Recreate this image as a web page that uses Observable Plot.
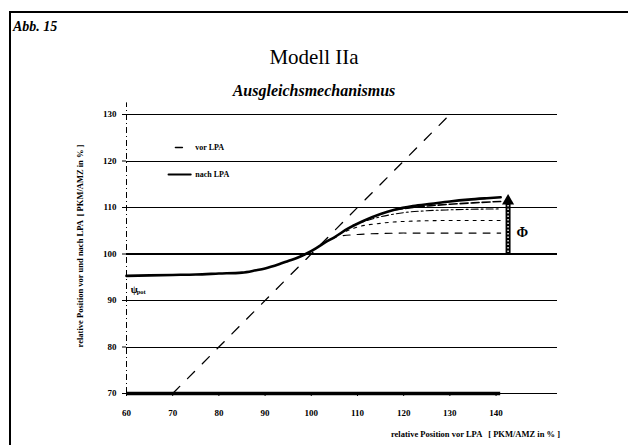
<!DOCTYPE html>
<html><head><meta charset="utf-8">
<script src="https://cdn.jsdelivr.net/npm/d3@7"></script>
<script src="https://cdn.jsdelivr.net/npm/@observablehq/plot@0.6"></script>
<style>body{margin:0;background:#fff}</style>
</head><body><div id="chart"></div>
<script>
const xTicks = [60,70,80,90,100,110,120,130,140];
const yTicks = [70,80,90,100,110,120,130];
const gridY = [80,90,110,120,130];
const nachX = [60,65,70,75,80,85,88,90,93,95,97,99,101,103,105,108,111,115,118,122,126,130,134,138,141];
const nachY = [95.3,95.4,95.5,95.6,95.8,96.0,96.5,96.9,97.8,98.5,99.2,100.1,101.2,102.5,103.6,105.5,107.0,108.6,109.5,110.3,110.8,111.3,111.7,112.0,112.2];
const vor1X = [104,106,110,115,120,130,141];
const vor1Y = [103.1,103.8,104.2,104.4,104.5,104.5,104.5];
const vor2X = [106,110,115,120,130,141];
const vor2Y = [104.2,105.8,106.6,107.0,107.2,107.2];
const vor3X = [109,115,120,125,130,141];
const vor3Y = [106.2,108.0,108.9,109.3,109.5,109.7];
const vor4X = [118,122,126,130,135,141];
const vor4Y = [109.5,110.0,110.4,110.7,111.0,111.3];
const diagX = [70,130];
const phiX = 142.6, phiFrom = 100, phiTo = 111.2, phiTip = 112.4;
const legendLabels = ["vor LPA","nach LPA"];

const tbl = (xs, ys) => xs.map((x,i)=>({x, y: ys[i]}));
const nach = tbl(nachX, nachY);
const vor1 = tbl(vor1X, vor1Y), vor2 = tbl(vor2X, vor2Y), vor3 = tbl(vor3X, vor3Y), vor4 = tbl(vor4X, vor4Y);
const diag = diagX.map(v => ({x:v, y:v}));

const serif = "'Liberation Serif','DejaVu Serif',serif";

const plot = Plot.plot({
  width: 628, height: 445,
  marginLeft: 126, marginRight: 71, marginTop: 114, marginBottom: 52,
  x: {domain: [60, 153.3]},
  y: {domain: [70, 130]},
  style: {fontFamily: serif, fontSize: "10px", fontWeight: "bold", color: "#000", background: "#fff", overflow: "visible"},
  marks: [
    Plot.ruleY(gridY, {stroke: "#000", strokeWidth: 1, shapeRendering: "crispEdges"}),
    Plot.ruleY([100], {stroke: "#000", strokeWidth: 2, shapeRendering: "crispEdges"}),
    Plot.ruleY([70], {stroke: "#000", strokeWidth: 1, shapeRendering: "crispEdges"}),
    Plot.ruleY([70], {x1: 60, x2: 141, stroke: "#000", strokeWidth: 3.5}),
    Plot.ruleX([60], {y1: 70, y2: 132.5, stroke: "#000", strokeWidth: 1, strokeDasharray: "6,3,1,3"}),
    Plot.line(diag, {x: "x", y: "y", stroke: "#000", strokeWidth: 1.3, strokeDasharray: "10,11"}),
    Plot.line(vor1, {x: "x", y: "y", stroke: "#000", strokeWidth: 1.1, curve: "monotone-x", strokeDasharray: "7,7"}),
    Plot.line(vor2, {x: "x", y: "y", stroke: "#000", strokeWidth: 1.1, curve: "monotone-x", strokeDasharray: "3,5"}),
    Plot.line(vor3, {x: "x", y: "y", stroke: "#000", strokeWidth: 1.1, curve: "monotone-x", strokeDasharray: "7,3,2,3"}),
    Plot.line(vor4, {x: "x", y: "y", stroke: "#000", strokeWidth: 1.6, curve: "monotone-x", strokeDasharray: "8,3"}),
    Plot.line(nach, {x: "x", y: "y", stroke: "#000", strokeWidth: 2.6, curve: "monotone-x"}),
    Plot.ruleX([phiX], {y1: phiFrom, y2: phiTo, stroke: "#000", strokeWidth: 5}),
    Plot.ruleX([phiX], {y1: phiFrom + 0.3, y2: phiTo - 0.5, stroke: "#fff", strokeWidth: 1.4, strokeDasharray: "1.5,2"}),
    Plot.dot([{x: phiX, y: phiTip - 1}], {x: "x", y: "y", symbol: "triangle", r: 4.5, fill: "#000", stroke: "none"}),
    Plot.text(["Φ"], {x: 145.7, y: 104.6, fontSize: 14, fontWeight: "bold", textAnchor: "middle"}),
    Plot.text(["ψ"], {x: 60.9, y: 92.4, fontSize: 10, fontWeight: "bold", textAnchor: "start"}),
    Plot.text(["pot"], {x: 60.9, y: 92.4, dx: 6, dy: 3, fontSize: 6.5, fontWeight: "bold", textAnchor: "start"}),
    // legend
    Plot.line([{x: 70.6, y: 122.9}, {x: 72.1, y: 122.9}], {x: "x", y: "y", stroke: "#000", strokeWidth: 1.5}),
    Plot.line([{x: 69.1, y: 117.1}, {x: 73.9, y: 117.1}], {x: "x", y: "y", stroke: "#000", strokeWidth: 2}),
    Plot.text([legendLabels[0]], {x: 74.9, y: 122.9, fontSize: 8, fontWeight: "bold", textAnchor: "start"}),
    Plot.text([legendLabels[1]], {x: 74.9, y: 117.1, fontSize: 8, fontWeight: "bold", textAnchor: "start"}),
    Plot.axisY({ticks: yTicks, tickSize: 4, tickPadding: 6, label: null, fontSize: 9, fontWeight: "bold"}),
    Plot.axisX({ticks: xTicks, tickSize: 3, tickPadding: 13, label: null, fontSize: 9, fontWeight: "bold"})
  ]
});

const svg = d3.select(plot);
svg.append("line").attr("x1", 9).attr("x2", 628).attr("y1", 12).attr("y2", 12).attr("stroke", "#000").attr("stroke-width", 2);
svg.append("line").attr("x1", 10).attr("x2", 10).attr("y1", 11).attr("y2", 445).attr("stroke", "#000").attr("stroke-width", 2);
svg.append("text").attr("x", 13).attr("y", 31).attr("text-anchor", "start").attr("font-size", 14).attr("font-style", "italic").attr("font-weight", "bold").attr("font-family", serif).text("Abb. 15");
svg.append("text").attr("x", 314).attr("y", 64).attr("text-anchor", "middle").attr("font-size", 21).attr("font-weight", "normal").attr("font-family", serif).text("Modell IIa");
svg.append("text").attr("x", 314).attr("y", 96).attr("text-anchor", "middle").attr("font-size", 16).attr("font-style", "italic").attr("font-weight", "bold").attr("font-family", serif).text("Ausgleichsmechanismus");
svg.append("text").attr("transform", "translate(83,246) rotate(-90)").attr("text-anchor", "middle").attr("font-size", 8.5).attr("font-weight", "bold").attr("font-family", serif).text("relative Position vor und nach LPA  [ PKM/AMZ in % ]");
svg.append("text").attr("x", 560).attr("y", 437).attr("text-anchor", "end").attr("font-size", 8.5).attr("font-weight", "bold").attr("font-family", serif).text("relative Position vor LPA   [ PKM/AMZ in % ]");

document.getElementById("chart").appendChild(plot);
</script>
</body></html>
